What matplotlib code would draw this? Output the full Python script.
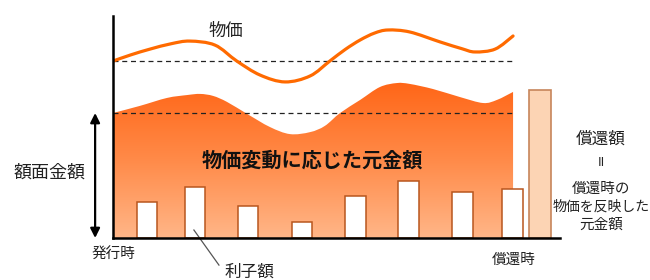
import numpy as np
import matplotlib
matplotlib.use("Agg")
import matplotlib.pyplot as plt
from matplotlib.colors import LinearSegmentedColormap
from matplotlib.path import Path
from matplotlib.patches import PathPatch

plt.rcParams['font.family'] = ['Noto Sans CJK JP', 'DejaVu Sans']

# price curve (upper line)
price_x = [0, 4, 8.3, 13, 17.2, 22.8, 27.7, 32.9, 38.5, 44.1, 48.5, 52, 55.3, 58.5,
           61.5, 66.4, 73.2, 78, 81.0, 85.5, 89.5]
price_y = [79.7, 82.5, 85.1, 87.5, 88.7, 86.9, 79.7, 73.4, 70.3, 73.0, 79.7, 85.0, 89.2, 92.3,
           93.7, 92.8, 88.3, 85.3, 83.8, 85.1, 91.0]

# principal adjusted to price (filled area top edge)
area_x = [0, 6.0, 12.1, 16.6, 19.5, 22.4, 25.5, 30.0, 35.1, 39.6, 44.1, 47.4, 50.8,
          55.3, 59.7, 63.5, 66.4, 71.6, 77.6, 82.8, 85.9, 89.5]
area_y = [56.3, 59.5, 63.1, 64.4, 64.9, 64.0, 61.3, 55.9, 50.0, 46.8, 47.7, 50.5, 56.3,
          62.2, 68.0, 69.8, 69.4, 67.1, 63.5, 60.8, 62.2, 65.8]

# coupon bars
coupon_x = [7.6, 18.3, 30.2, 42.3, 54.3, 66.1, 78.2, 89.4]
coupon_h = [16.2, 23.0, 14.4, 7.2, 18.9, 25.7, 20.7, 22.1]

# redemption bar
redeem_x = 95.5
redeem_h = 66.7

price_ref = 79.7   # upper dashed line
face_value = 56.3  # lower dashed line
x_end = 89.5

right_lines = ['償還額', 'II', '償還時の', '物価を反映した', '元金額']

txt = '#222222'
orange = '#FF6A00'


def smooth_path(xs, ys):
    # curve through the points, drawn as cubic bezier segments
    p = np.column_stack([xs, ys]).astype(float)
    verts = [p[0]]
    codes = [Path.MOVETO]
    n = len(p)
    for i in range(n - 1):
        p0 = p[max(i - 1, 0)]
        p1 = p[i]
        p2 = p[i + 1]
        p3 = p[min(i + 2, n - 1)]
        verts += [p1 + (p2 - p0) / 6, p2 - (p3 - p1) / 6, p2]
        codes += [Path.CURVE4] * 3
    return verts, codes


fig = plt.figure(figsize=(6.5, 2.8), dpi=100)
ax = fig.add_axes([113 / 650, 42 / 280, 447 / 650, 222 / 280])
for s in ['top', 'right']:
    ax.spines[s].set_visible(False)
for s in ['left', 'bottom']:
    ax.spines[s].set_linewidth(1.8)
    ax.spines[s].set_zorder(6)
ax.set_xticks([])
ax.set_yticks([])

# gradient area
v, c = smooth_path(area_x, area_y)
v += [(x_end, 0), (0, 0), (0, 0)]
c += [Path.LINETO, Path.LINETO, Path.CLOSEPOLY]
area_path = Path(v, c)
cmap = LinearSegmentedColormap.from_list('grad', ['#FFB688', '#FF8A48', '#FF6516'])
grad = np.linspace(0, 1, 256).reshape(-1, 1)
im = ax.imshow(grad, cmap=cmap, origin='lower', aspect='auto',
               extent=[0, x_end, 0, max(area_y) + 1], zorder=1)
im.set_clip_path(area_path, transform=ax.transData)
ax.set_xlim(0, 100)
ax.set_ylim(0, 100)

# dashed reference lines
ax.plot([0, x_end], [price_ref, price_ref], color='#222222', lw=0.9, ls=(0, (4, 3)), zorder=3)
ax.plot([0, x_end], [face_value, face_value], color='#222222', lw=0.9, ls=(0, (4, 3)), zorder=3)

# price line
v, c = smooth_path(price_x, price_y)
ax.add_patch(PathPatch(Path(v, c), facecolor='none', edgecolor=orange, lw=2.3,
                       capstyle='round', zorder=4))

# coupon bars
ax.bar(coupon_x, coupon_h, width=4.6, color='white', edgecolor='#B8561E', lw=1.1, zorder=4)
ax.bar([redeem_x], [redeem_h], width=4.9, color='#FCD4B4', edgecolor='#C7855B', lw=1.2,
       zorder=4, clip_on=False)

# double arrow for face value
ax.annotate('', xy=(-4.0, face_value), xytext=(-4.0, 0), xycoords='data',
            arrowprops=dict(arrowstyle='<|-|>', color='black', lw=1.6,
                            mutation_scale=14, shrinkA=0, shrinkB=0),
            annotation_clip=False)

# leader line to coupon label
ax.plot([18.1, 23.7], [3.6, -12.2], color='#555555', lw=0.9, clip_on=False, zorder=5)

ax.text(25.3, 93.2, '物価', ha='center', va='center', fontsize=12.5, color=txt)
ax.text(44.5, 35.1, '物価変動に応じた元金額', ha='center', va='center', fontsize=14.5,
        fontweight='bold', color='#111111', zorder=5)
ax.text(-14.1, 29.3, '額面金額', ha='center', va='center', fontsize=13, color=txt, clip_on=False)
ax.text(0.2, -7.7, '発行時', ha='center', va='center', fontsize=10.5, color=txt, clip_on=False)
ax.text(30.6, -15.4, '利子額', ha='center', va='center', fontsize=12, color=txt, clip_on=False)
ax.text(89.7, -9.9, '償還時', ha='center', va='center', fontsize=10.5, color=txt, clip_on=False)

right_y = [44.6, 34.2, 22.1, 14.0, 5.9]
right_size = [12, 9, 10.5, 10, 10.5]
for s, yy, fs in zip(right_lines, right_y, right_size):
    ax.text(109.2, yy, s, ha='center', va='center', fontsize=fs, color=txt, clip_on=False)

fig.savefig('out.png', dpi=100)
